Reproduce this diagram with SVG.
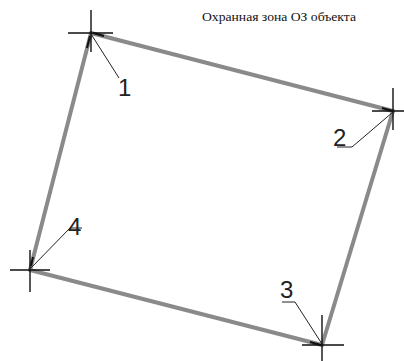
<svg xmlns="http://www.w3.org/2000/svg" width="404" height="361" viewBox="0 0 404 361">
<style>
.edge{stroke:#8a8a8a;stroke-width:4;fill:none;stroke-linecap:round}
.tip{stroke:#111;stroke-width:2;fill:none}
.cross{stroke:#111;stroke-width:1.4;fill:none}
.lead{stroke:#222;stroke-width:1;fill:none}
.num{font-family:"Liberation Sans",Arial,sans-serif;font-size:24px;fill:#222;font-weight:normal}
.title{font-family:"Liberation Serif","Times New Roman",serif;font-size:12px;fill:#111}
</style>
<rect width="404" height="361" fill="#fff"/>
<text class="title" x="202" y="21" textLength="154" lengthAdjust="spacingAndGlyphs">Охранная зона ОЗ объекта</text>
<g id="connectors">
<line class="edge" x1="91" y1="33" x2="393" y2="111"/>
<line class="edge" x1="393" y1="111" x2="322" y2="345"/>
<line class="edge" x1="322" y1="345" x2="30" y2="270"/>
<line class="edge" x1="30" y1="270" x2="91" y2="33"/>
<line class="tip" x1="93" y1="33" x2="104" y2="36"/>
<line class="tip" x1="90" y1="36" x2="87" y2="48"/>
<line class="tip" x1="382" y1="108" x2="393" y2="111"/>
<line class="tip" x1="31" y1="266" x2="33" y2="257"/>
<line class="tip" x1="310" y1="342" x2="321" y2="345"/>
</g>
<g id="node1">
<path class="cross" d="M68 33H113M91 10V52"/>
<path class="lead" d="M91 34L119 78"/>
<text class="num" x="118" y="96">1</text>
</g>
<g id="node2">
<path class="cross" d="M372 111H404M393 88V130"/>
<path class="lead" d="M393 112L352 147H337"/>
<text class="num" x="333" y="146">2</text>
</g>
<g id="node3">
<path class="cross" d="M302 345H344M322 315V361"/>
<path class="lead" d="M322 344L295 302H282"/>
<text class="num" x="280" y="298">3</text>
</g>
<g id="node4">
<path class="cross" d="M10 270H50M30 250V292"/>
<path class="lead" d="M30 269L70 228H82"/>
<text class="num" x="68" y="235">4</text>
</g>
</svg>
